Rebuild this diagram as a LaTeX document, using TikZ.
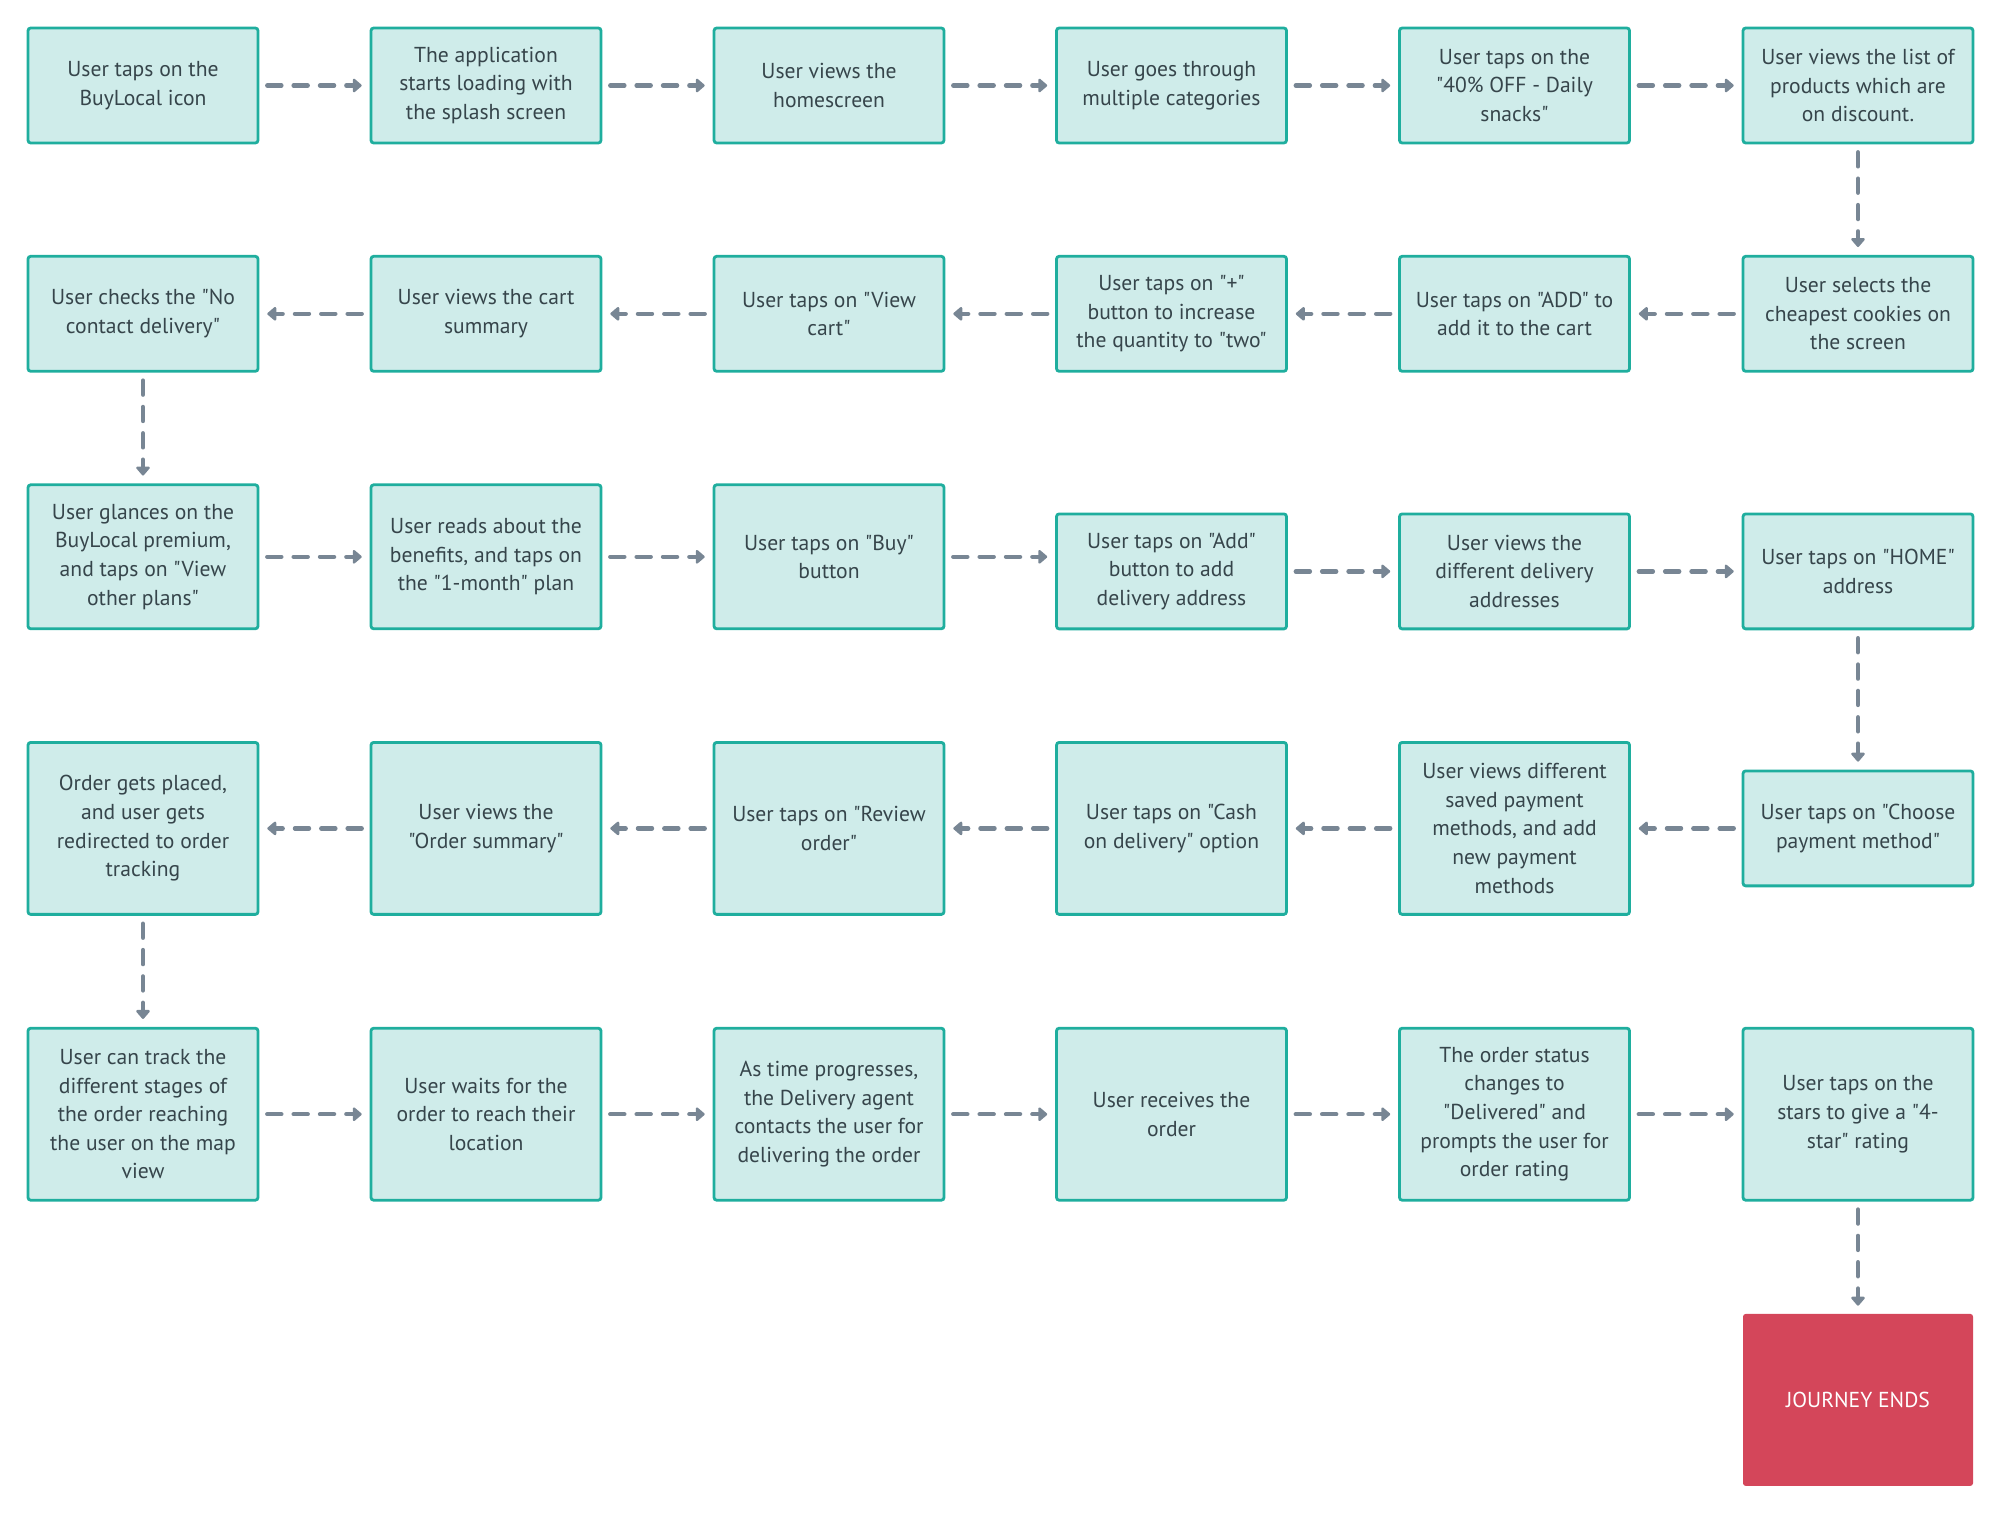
\documentclass[tikz,border=0pt]{standalone}
\usepackage{fontspec}
\setmainfont{PT Sans}[Ligatures=TeXOff]
\usetikzlibrary{positioning}
\usetikzlibrary{arrows.meta}
\definecolor{boxfill}{HTML}{CFECEA}
\definecolor{boxline}{HTML}{1FAE9E}
\definecolor{boxtext}{HTML}{36454B}
\definecolor{flowgray}{HTML}{788694}
\definecolor{endred}{HTML}{D4465A}
\tikzset{
    stepnode/.style = {rectangle, rounded corners=1.5pt, draw=boxline, line width=1.6pt, fill=boxfill, text=boxtext, align=center, inner sep=0pt, minimum width=4.6cm, minimum height=2.3cm, font=\fontsize{12.3}{16.3}\selectfont},
    stepnodem/.style = {stepnode, minimum height=2.88cm},
    stepnodet/.style = {stepnode, minimum height=3.44cm},
    endnode/.style = {rectangle, rounded corners=1.5pt, fill=endred, text=white, align=center, minimum width=4.6cm, minimum height=3.44cm, font=\fontsize{12.3}{16.3}\selectfont},
    edgef/.style = {-{Triangle[length=5.5pt,width=9pt,round]}, line width=2.5pt, flowgray, dash pattern=on 8pt off 7pt, line cap=round, shorten <=4.5pt, shorten >=4.5pt}, % flow
}
\begin{document}
\begin{tikzpicture}[x=0.02cm,y=-0.02cm]
\useasboundingbox (0,0) rectangle (2000,1514);
%
\node[stepnode] at (143,85.5) (a1) {User taps on the\\BuyLocal icon};
\node[stepnode] at (486,85.5) (a2) {The application\\starts loading with\\the splash screen};
\node[stepnode] at (829,85.5) (a3) {User views the\\homescreen};
\node[stepnode] at (1171.5,85.5) (a4) {User goes through\\multiple categories};
\node[stepnode] at (1514.5,85.5) (a5) {User taps on the\\"40\% OFF - Daily\\snacks"};
\node[stepnode] at (1858,85.5) (a6) {User views the list of\\products which are\\on discount.};
%
\node[stepnode] at (1858,313.8) (b6) {User selects the\\cheapest cookies on\\the screen};
\node[stepnode] at (1514.5,313.8) (b5) {User taps on "ADD" to\\add it to the cart};
\node[stepnode] at (1171.5,313.8) (b4) {User taps on "+"\\button to increase\\the quantity to "two"};
\node[stepnode] at (829,313.8) (b3) {User taps on "View\\cart"};
\node[stepnode] at (486,313.8) (b2) {User views the cart\\summary};
\node[stepnode] at (143,313.8) (b1) {User checks the "No\\contact delivery"};
%
\node[stepnodem] at (143,556.8) (c1) {User glances on the\\BuyLocal premium,\\and taps on "View\\other plans"};
\node[stepnodem] at (486,556.8) (c2) {User reads about the\\benefits, and taps on\\the "1-month" plan};
\node[stepnodem] at (829,556.8) (c3) {User taps on "Buy"\\button};
\node[stepnode] at (1171.5,571.4) (c4) {User taps on "Add"\\button to add\\delivery address};
\node[stepnode] at (1514.5,571.4) (c5) {User views the\\different delivery\\addresses};
\node[stepnode] at (1858,571.4) (c6) {User taps on "HOME"\\address};
%
\node[stepnode] at (1858,828.4) (d6) {User taps on "Choose\\payment method"};
\node[stepnodet] at (1514.5,828.4) (d5) {User views different\\saved payment\\methods, and add\\new payment\\methods};
\node[stepnodet] at (1171.5,828.4) (d4) {User taps on "Cash\\on delivery" option};
\node[stepnodet] at (829,828.4) (d3) {User taps on "Review\\order"};
\node[stepnodet] at (486,828.4) (d2) {User views the\\"Order summary"};
\node[stepnodet] at (143,828.4) (d1) {Order gets placed,\\and user gets\\redirected to order\\tracking};
%
\node[stepnodet] at (143,1114.2) (e1) {User can track the\\different stages of\\the order reaching\\the user on the map\\view};
\node[stepnodet] at (486,1114.2) (e2) {User waits for the\\order to reach their\\location};
\node[stepnodet] at (829,1114.2) (e3) {As time progresses,\\the Delivery agent\\contacts the user for\\delivering the order};
\node[stepnodet] at (1171.5,1114.2) (e4) {User receives the\\order};
\node[stepnodet] at (1514.5,1114.2) (e5) {The order status\\changes to\\"Delivered" and\\prompts the user for\\order rating};
\node[stepnodet] at (1858,1114.2) (e6) {User taps on the\\stars to give a "4-\\star" rating};
%
\node[endnode] at (1858,1399.9) (z) {JOURNEY ENDS};
%
\draw[edgef] (a1) -- (a2);
\draw[edgef] (a2) -- (a3);
\draw[edgef] (a3) -- (a4);
\draw[edgef] (a4) -- (a5);
\draw[edgef] (a5) -- (a6);
\draw[edgef] (a6) -- (b6);
\draw[edgef] (b6) -- (b5);
\draw[edgef] (b5) -- (b4);
\draw[edgef] (b4) -- (b3);
\draw[edgef] (b3) -- (b2);
\draw[edgef] (b2) -- (b1);
\draw[edgef] (b1) -- (c1);
\draw[edgef] (c1) -- (c2);
\draw[edgef] (c2) -- (c3);
\draw[edgef] (c3.east) -- (c3.east -| c4.west);
\draw[edgef] (c4) -- (c5);
\draw[edgef] (c5) -- (c6);
\draw[edgef] (c6) -- (d6);
\draw[edgef] (d6) -- (d5);
\draw[edgef] (d5) -- (d4);
\draw[edgef] (d4) -- (d3);
\draw[edgef] (d3) -- (d2);
\draw[edgef] (d2) -- (d1);
\draw[edgef] (d1) -- (e1);
\draw[edgef] (e1) -- (e2);
\draw[edgef] (e2) -- (e3);
\draw[edgef] (e3) -- (e4);
\draw[edgef] (e4) -- (e5);
\draw[edgef] (e5) -- (e6);
\draw[edgef] (e6) -- (z);
\end{tikzpicture}
\end{document}
